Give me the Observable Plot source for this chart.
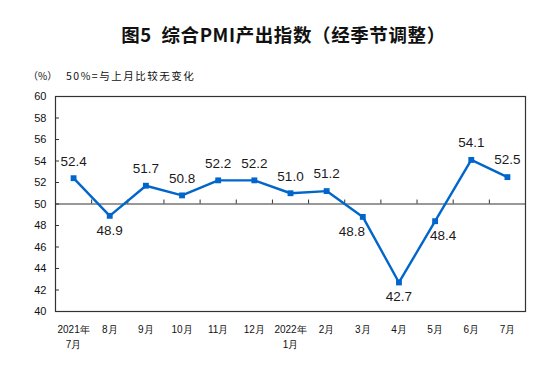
<!DOCTYPE html>
<html><head><meta charset="utf-8">
<script src="https://cdn.jsdelivr.net/npm/d3@7"></script>
<script src="https://cdn.jsdelivr.net/npm/@observablehq/plot@0.6"></script>
<style>
body{margin:0;background:#fff;}
#wrap{position:relative;width:559px;height:376px;overflow:hidden;font-family:"Liberation Sans",Arial,sans-serif;color:#111;}
#title{position:absolute;top:21px;left:4px;width:559px;text-align:center;font-weight:bold;font-size:18.5px;line-height:26px;letter-spacing:0.6px;font-family:"Noto Sans CJK SC",sans-serif;white-space:pre;}
#unit{position:absolute;top:69px;left:28px;font-size:10px;line-height:14px;font-family:"Noto Sans CJK SC",sans-serif;}
#note{position:absolute;top:69px;left:66px;font-size:10.5px;line-height:14px;letter-spacing:1.5px;font-family:"Noto Sans CJK SC",sans-serif;}
#chart{position:absolute;top:84px;left:0;}
</style></head>
<body>
<div id="wrap">
  <div id="title">图5  综合PMI产出指数（经季节调整）</div>
  <div id="unit">（%）</div>
  <div id="note">50%=与上月比较无变化</div>
  <div id="chart"></div>
</div>
<script>
const months = ["2021年\n7月","8月","9月","10月","11月","12月","2022年\n1月","2月","3月","4月","5月","6月","7月"];
const values = [52.4, 48.9, 51.7, 50.8, 52.2, 52.2, 51.0, 51.2, 48.8, 42.7, 48.4, 54.1, 52.5];
const labelPlacement = ["above","below","above","above","above","above","above","above","below-left","below","below-right","above","above"];
const yTicks = [40,42,44,46,48,50,52,54,56,58,60];

const data = values.map((v, i) => ({i, v, label: v.toFixed(1), pos: labelPlacement[i]}));
const boundaries = d3.range(0.5, months.length - 1, 1);
const blue = "#0066cc";
const offsets = {"above": [0, -17], "below": [0, 14.5], "below-left": [-11, 14.5], "below-right": [8, 14.5]};

const chart = Plot.plot({
  width: 559,
  height: 292,
  marginTop: 12,
  marginBottom: 65,
  marginLeft: 55,
  marginRight: 34,
  style: {fontFamily: "'Liberation Sans', Arial, sans-serif", color: "#111", background: "#fff"},
  x: {domain: [-0.5, months.length - 0.5], axis: null},
  y: {domain: [40, 60], axis: null},
  marks: [
    Plot.axisY({ticks: yTicks, tickSize: 0, tickPadding: 9, fontSize: 11, label: null, tickFormat: d => String(d)}),
    Plot.ruleY(yTicks, {y: d => d, x1: -0.5, x2: -0.5 + 0.11, stroke: "#333"}),
    Plot.ruleY([50], {stroke: "#333", strokeWidth: 1}),
    Plot.ruleX(boundaries, {x: d => d, y1: 50, y2: 50.37, stroke: "#333"}),
    Plot.frame({stroke: "#333", strokeWidth: 1.2}),
    Plot.line(data, {x: "i", y: "v", stroke: blue, strokeWidth: 2.4}),
    Plot.dot(data, {x: "i", y: "v", symbol: "square", r: 3.3, fill: blue, stroke: "none"}),
    ...Object.entries(offsets).map(([pos, [dx, dy]]) =>
      Plot.text(data.filter(d => d.pos === pos), {x: "i", y: "v", text: "label", dx, dy, fontSize: 13.5, fill: "#1a1a1a"})
    ),
    Plot.text(months, {x: (d, i) => i, y: () => 40, text: d => d, lineAnchor: "top", dy: 11, fontSize: 10, lineHeight: 1.5, fill: "#111"})
  ]
});
document.getElementById("chart").appendChild(chart);
</script>
</body></html>
